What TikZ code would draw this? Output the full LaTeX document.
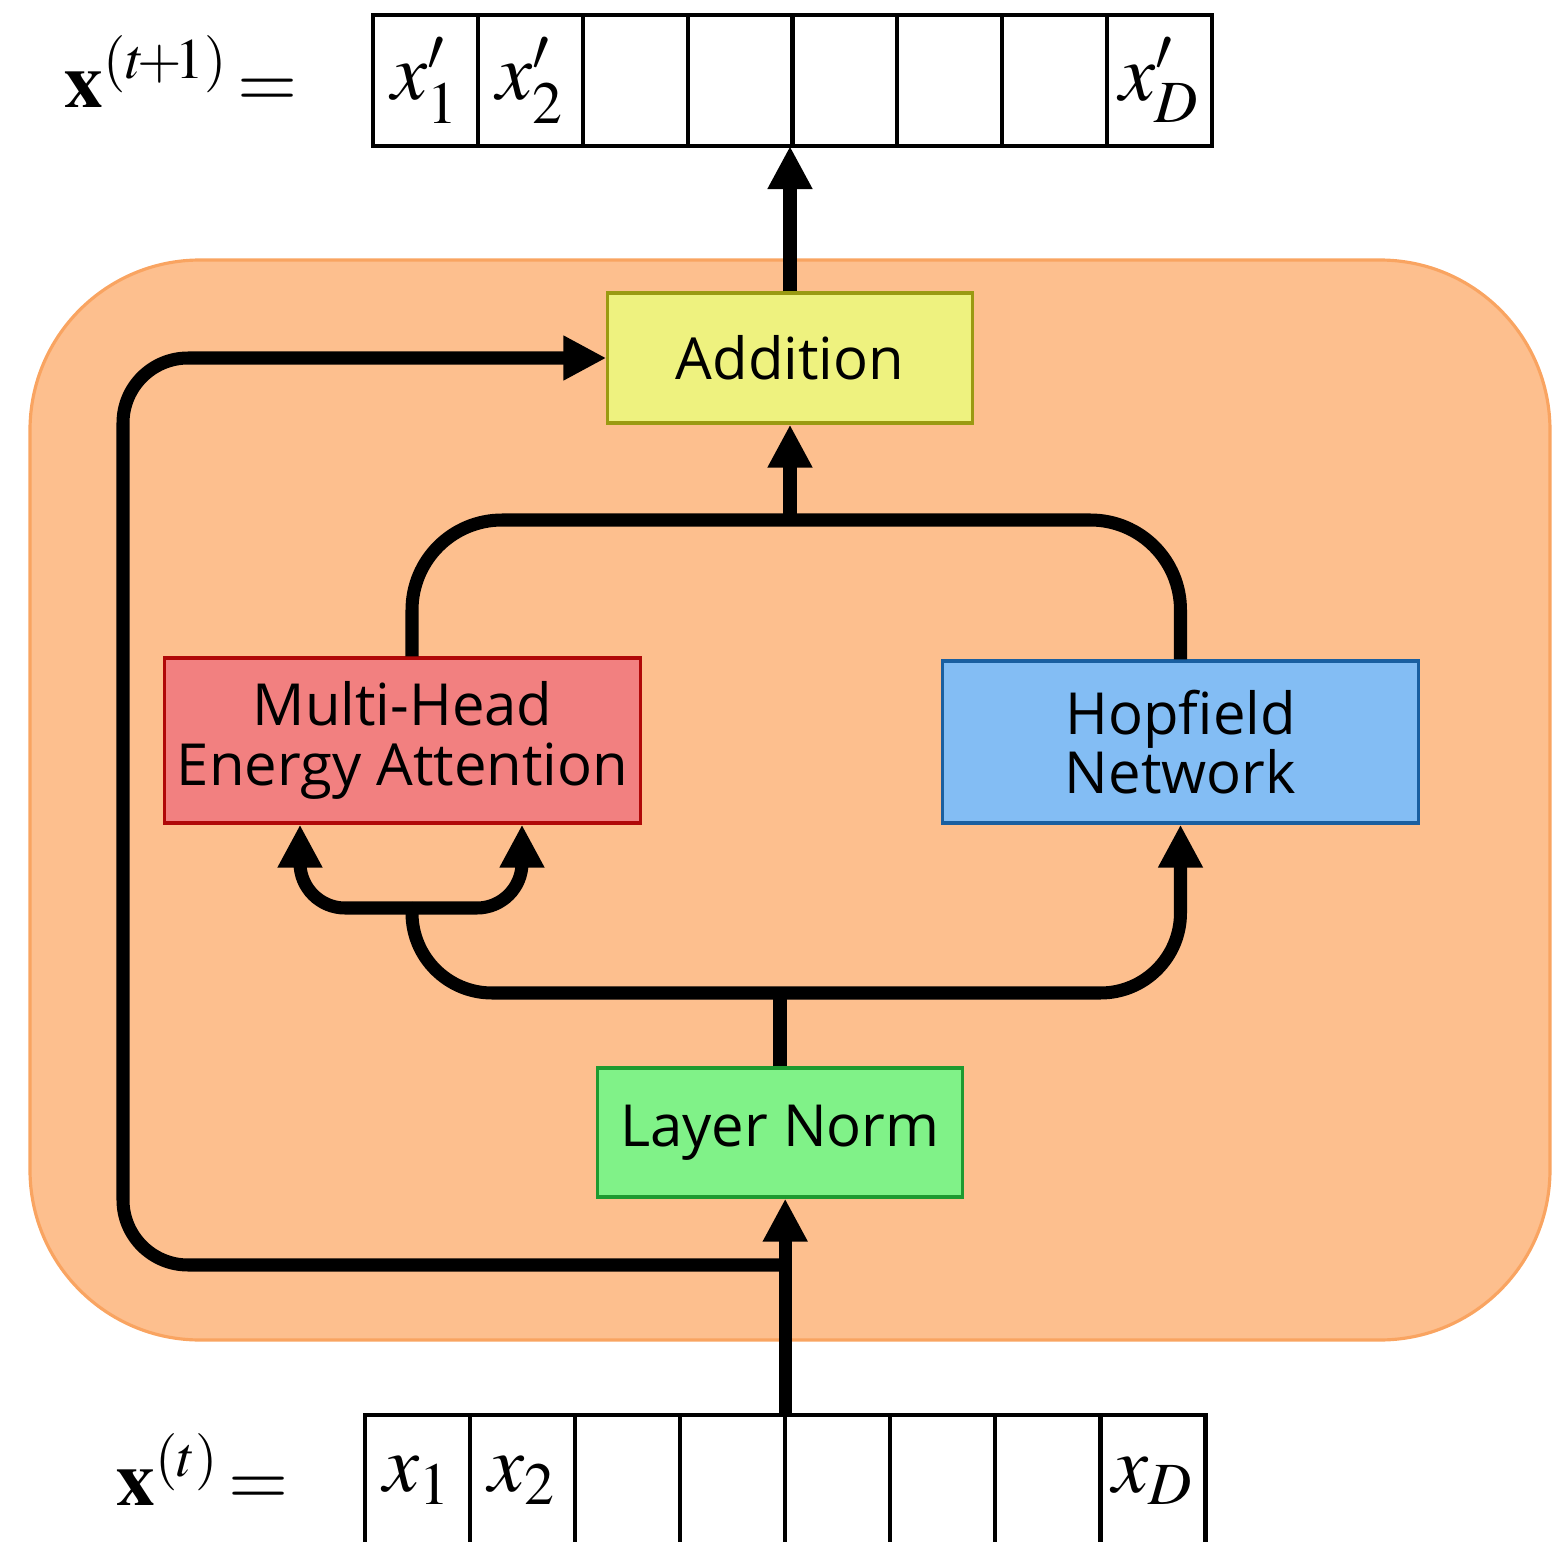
\documentclass[tikz,border=0pt]{standalone}
\usepackage{amsmath}
\usepackage{mathptmx}
\usepackage[no-math]{fontspec}
\setmainfont{Open Sans}
\usetikzlibrary{positioning, calc, arrows.meta}
\definecolor{bgfill}{HTML}{FDBF8E}
\definecolor{bgline}{HTML}{F9A461}
\definecolor{addfill}{HTML}{EEF27F}
\definecolor{addline}{HTML}{9A9A12}
\definecolor{attfill}{HTML}{F28080}
\definecolor{attline}{HTML}{B00808}
\definecolor{hopfill}{HTML}{83BDF4}
\definecolor{hopline}{HTML}{1A5FA0}
\definecolor{lnfill}{HTML}{80F288}
\definecolor{lnline}{HTML}{1E9A30}

\begin{document}
\begin{tikzpicture}[x=0.01cm, y=-0.01cm, node distance=0pt,
  cell/.style={draw, line width=1.2pt, fill=white, outer sep=0pt, inner sep=0pt, minimum height=13.1mm, font=\fontsize{23}{27}\selectfont},
  box/.style={draw, line width=0.9pt, align=center, font=\fontsize{16.5}{17}\selectfont},
  flow/.style={line width=3.7pt},
  arrow/.style={flow, -{Triangle[length=4.3mm, width=4.2mm]}}]
  \useasboundingbox (0,0) rectangle (1568,1542);
  \clip (0,0) rectangle (1568,1542);

  \draw[draw=bgline, fill=bgfill, line width=0.9pt, rounded corners=17mm] (30,260) rectangle (1550,1340);

  % output vector
  \node[cell, minimum width=10.48mm] (t1) at (425.5,80.5) {$x'_1$}; \node[cell, minimum width=10.48mm, right=of t1] (t2) {$x'_2$};
  \node[cell, minimum width=10.48mm, right=of t2] (t3) {}; \node[cell, minimum width=10.48mm, right=of t3] (t4) {};
  \node[cell, minimum width=10.48mm, right=of t4] (t5) {}; \node[cell, minimum width=10.48mm, right=of t5] (t6) {};
  \node[cell, minimum width=10.48mm, right=of t6] (t7) {}; \node[cell, minimum width=10.48mm, right=of t7] (t8) {$x'_D$};
  \node[anchor=base east, inner sep=0pt, font=\fontsize{22}{26}\selectfont] (lhsTop) at (298,107) {$\mathbf{x}^{(t\!+\!1)}\! =$};

  % input vector
  \node[cell, minimum width=10.5mm] (b1) at (417.5,1480.5) {$x_1$}; \node[cell, minimum width=10.5mm, right=of b1] (b2) {$x_2$};
  \node[cell, minimum width=10.5mm, right=of b2] (b3) {}; \node[cell, minimum width=10.5mm, right=of b3] (b4) {};
  \node[cell, minimum width=10.5mm, right=of b4] (b5) {}; \node[cell, minimum width=10.5mm, right=of b5] (b6) {};
  \node[cell, minimum width=10.5mm, right=of b6] (b7) {}; \node[cell, minimum width=10.5mm, right=of b7] (b8) {$x_D$};
  \node[anchor=base east, inner sep=0pt, font=\fontsize{22}{26}\selectfont] (lhsBot) at (289,1505) {$\mathbf{x}^{(t)}\! =$};

  % blocks
  \node[box, fill=addfill, draw=addline, minimum width=36.4mm, minimum height=13mm] (add) at (790,358) {Addition};
  \node[box, fill=attfill, draw=attline, minimum width=47.5mm, minimum height=16.5mm] (mhea) at (402.5,740.5) {Multi-Head\\Energy Attention};
  \node[box, fill=hopfill, draw=hopline, minimum width=47.5mm, minimum height=16.2mm] (hop) at (1180.5,742) {Hopfield\\Network};
  \node[box, fill=lnfill, draw=lnline, minimum width=36.4mm, minimum height=12.9mm] (norm) at (780,1132.5) {Layer Norm};

  \coordinate (skip) at (785,1265); \coordinate (loop) at (123,1265);
  \coordinate (splitL) at (412,993); \coordinate (splitR) at (1180.5,993);
  \coordinate (fork) at (412,908); \coordinate (forkL) at (300,908); \coordinate (forkR) at (522,908);
  \coordinate (mergeL) at (412,520); \coordinate (mergeR) at (1180.5,520); \coordinate (merge) at (790,520);

  \draw[arrow] (b4.north east) -- (b4.north east |- norm.south);
  \draw[arrow, rounded corners=6.5mm] (skip) -- (loop) |- (add.west);
  \draw[flow] (norm.north) -- (norm.north |- splitL);
  \draw[arrow, rounded corners=8mm] (fork) -- (splitL) -- (splitR) -- (hop.south);
  \draw[arrow, rounded corners=4.5mm] (fork) -- (forkL) -- (forkL |- mhea.south);
  \draw[arrow, rounded corners=4.5mm] (fork) -- (forkR) -- (forkR |- mhea.south);
  \draw[flow, rounded corners=9mm] (mhea.north -| mergeL) -- (mergeL) -- (mergeR) -- (hop.north);
  \draw[arrow] (merge) -- (add.south);
  \draw[arrow] (add.north) -- (add.north |- t4.south);
\end{tikzpicture}
\end{document}
